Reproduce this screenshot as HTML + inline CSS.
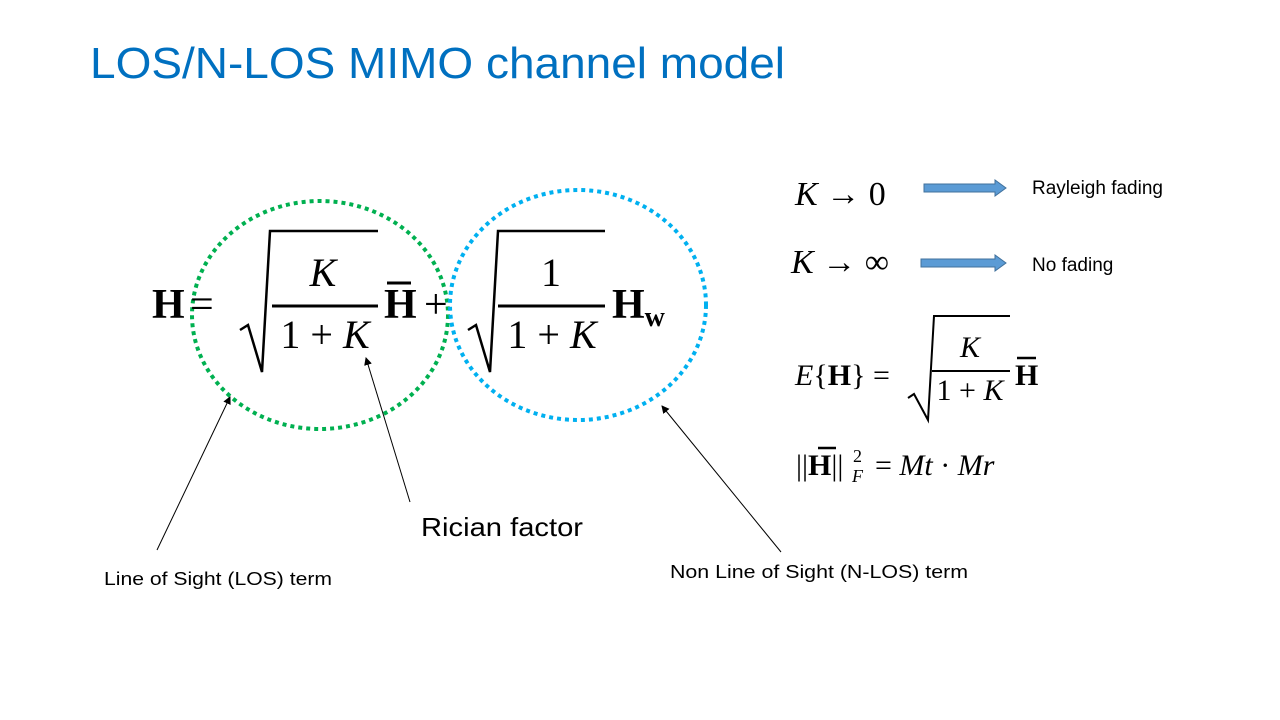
<!DOCTYPE html>
<html><head><meta charset="utf-8"><style>
html,body{margin:0;padding:0;background:#fff;width:1280px;height:720px;overflow:hidden}
svg{display:block}
.m{font-family:"Liberation Serif","DejaVu Serif",serif}
.s{font-family:"Liberation Sans","DejaVu Sans",sans-serif}
</style></head><body>
<svg width="1280" height="720" viewBox="0 0 1280 720">
<defs>
<marker id="ah" markerWidth="8" markerHeight="8" refX="7" refY="4" orient="auto" markerUnits="userSpaceOnUse">
<path d="M0,0 L8,4 L0,8 z" fill="#000"/></marker>
</defs>
<text x="90" y="78" class="s" font-size="44" fill="#0070C0" textLength="695" lengthAdjust="spacingAndGlyphs">LOS/N-LOS MIMO channel model</text>

<!-- circles -->
<ellipse cx="320" cy="315" rx="128" ry="114" fill="none" stroke="#00B050" stroke-width="4" stroke-dasharray="4,4"/>
<ellipse cx="578" cy="305" rx="128" ry="115" fill="none" stroke="#00B0F0" stroke-width="4" stroke-dasharray="4,4"/>

<!-- main equation -->
<g class="m" fill="#000">
<text x="152" y="318" font-size="42" font-weight="bold">H</text>
<text x="190" y="318" font-size="42">=</text>
<path d="M240,330 L248,325 L262,372 L270,231 L378,231" fill="none" stroke="#000" stroke-width="2.5"/>
<text x="323" y="286" font-size="40" font-style="italic" text-anchor="middle">K</text>
<line x1="272" y1="306" x2="378" y2="306" stroke="#000" stroke-width="3"/>
<text x="325" y="348" font-size="40" text-anchor="middle">1 + <tspan font-style="italic">K</tspan></text>
<text x="384" y="318" font-size="42" font-weight="bold">H</text>
<line x1="387" y1="283" x2="411" y2="283" stroke="#000" stroke-width="3"/>
<text x="424" y="318" font-size="42">+</text>
<path d="M468,330 L476,325 L490,372 L498,231 L605,231" fill="none" stroke="#000" stroke-width="2.5"/>
<text x="551" y="286" font-size="40" text-anchor="middle">1</text>
<line x1="498" y1="306" x2="605" y2="306" stroke="#000" stroke-width="3"/>
<text x="552" y="348" font-size="40" text-anchor="middle">1 + <tspan font-style="italic">K</tspan></text>
<text x="612" y="318" font-size="42" font-weight="bold">H<tspan font-size="28" dy="8">w</tspan></text>
</g>

<!-- right side -->
<g class="m" fill="#000">
<text x="795" y="205" font-size="34"><tspan font-style="italic">K</tspan> → 0</text>
<text x="791" y="273" font-size="34"><tspan font-style="italic">K</tspan> → ∞</text>
<text x="795" y="385" font-size="30"><tspan font-style="italic">E</tspan>{<tspan font-weight="bold">H</tspan>} =</text>
<path d="M908,398 L914,394 L928,420 L934,316 L1010,316" fill="none" stroke="#000" stroke-width="2"/>
<text x="970" y="357" font-size="30" font-style="italic" text-anchor="middle">K</text>
<line x1="932" y1="371" x2="1010" y2="371" stroke="#000" stroke-width="2"/>
<text x="970" y="400" font-size="30" text-anchor="middle">1 + <tspan font-style="italic">K</tspan></text>
<text x="1015" y="385" font-size="30" font-weight="bold">H</text>
<line x1="1017" y1="358" x2="1036" y2="358" stroke="#000" stroke-width="2.5"/>
<text x="796" y="475" font-size="30">||<tspan font-weight="bold">H</tspan>||</text>
<line x1="818" y1="448" x2="836" y2="448" stroke="#000" stroke-width="2.5"/>
<text x="853" y="462" font-size="18">2</text>
<text x="852" y="482" font-size="18" font-style="italic">F</text>
<text x="875" y="475" font-size="30">= <tspan font-style="italic">Mt</tspan> · <tspan font-style="italic">Mr</tspan></text>
</g>
<!-- block arrows -->
<path d="M924,184 L995,184 L995,180 L1006,188 L995,196 L995,192 L924,192 z" fill="#5B9BD5" stroke="#41719C" stroke-width="1"/>
<path d="M921,259 L995,259 L995,255 L1006,263 L995,271 L995,267 L921,267 z" fill="#5B9BD5" stroke="#41719C" stroke-width="1"/>
<text x="1032" y="194" class="s" font-size="19" fill="#000">Rayleigh fading</text>
<text x="1032" y="271" class="s" font-size="19" fill="#000">No fading</text>

<!-- pointers -->
<line x1="157" y1="550" x2="230" y2="397" stroke="#000" stroke-width="1" marker-end="url(#ah)"/>
<line x1="410" y1="502" x2="366" y2="358" stroke="#000" stroke-width="1" marker-end="url(#ah)"/>
<line x1="781" y1="552" x2="662" y2="406" stroke="#000" stroke-width="1" marker-end="url(#ah)"/>

<text x="421" y="536" class="s" font-size="26" fill="#000" textLength="162" lengthAdjust="spacingAndGlyphs">Rician factor</text>
<text x="104" y="585" class="s" font-size="18" fill="#000" textLength="228" lengthAdjust="spacingAndGlyphs">Line of Sight (LOS) term</text>
<text x="670" y="578" class="s" font-size="18" fill="#000" textLength="298" lengthAdjust="spacingAndGlyphs">Non Line of Sight (N-LOS) term</text>
</svg>
</body></html>
